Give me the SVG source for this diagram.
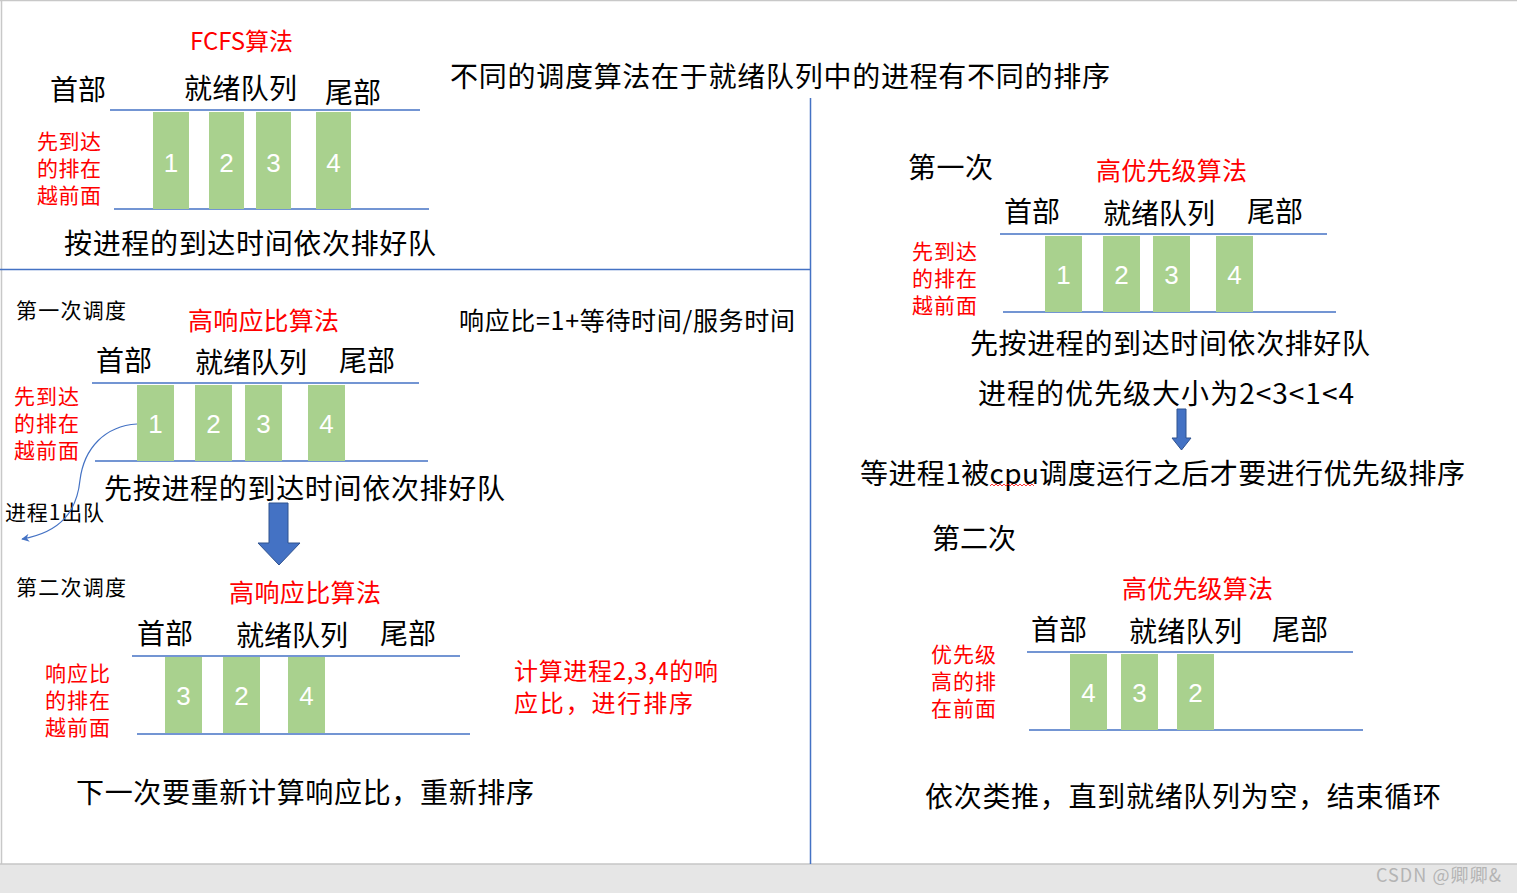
<svg xmlns="http://www.w3.org/2000/svg" width="1517" height="893" viewBox="0 0 1517 893">
<style>
text{font-family:"Noto Sans CJK SC","Noto Sans",sans-serif;fill:#000}
.h{font-size:28px}
.s{font-size:21px}
.m{font-size:25px}
.red{fill:#ff0000}
.bar{fill:#a9d18e}
.num{fill:#ffffff;font-size:26px;text-anchor:middle;font-family:"Liberation Sans","Noto Sans",sans-serif}
.ql{stroke:#4472c4;stroke-width:1.3;fill:none}
.div{stroke:#4472c4;stroke-width:1.5;fill:none}
.blk{fill:#4472c4;stroke:#2f528f;stroke-width:1}
</style>
<defs>
<marker id="ah" viewBox="0 0 10 10" refX="9" refY="5" markerWidth="8" markerHeight="8" orient="auto" markerUnits="userSpaceOnUse">
<path d="M0,0 L10,5 L0,10 L3,5 Z" fill="#4472c4"/>
</marker>
</defs>
<rect x="0" y="0" width="1517" height="893" fill="#ffffff"/>
<g id="frame">
<line x1="0" y1="0.5" x2="1517" y2="0.5" stroke="#c8c8c8" stroke-width="1.5"/>
<line x1="1.5" y1="0" x2="1.5" y2="864" stroke="#c8c8c8" stroke-width="1.5"/>
<rect x="0" y="864" width="1517" height="29" fill="#e6e6e6"/>
<line x1="0" y1="864" x2="1517" y2="864" stroke="#c6c6c6" stroke-width="1.5"/>
<line class="div" x1="0" y1="269.5" x2="810" y2="269.5"/>
<line class="div" x1="810.5" y1="98" x2="810.5" y2="864"/>
</g>
<g id="title"><text class="h" x="450" y="87" textLength="660">不同的调度算法在于就绪队列中的进程有不同的排序</text></g>

<g id="fcfs">
<text class="red" x="190" y="50" font-size="24" textLength="103">FCFS算法</text>
<text class="h" x="50" y="100" textLength="56">首部</text>
<text class="h" x="184" y="99" textLength="113">就绪队列</text>
<text class="h" x="325" y="103" textLength="56">尾部</text>
<line class="ql" x1="110" y1="110" x2="420" y2="110"/>
<line class="ql" x1="114" y1="209" x2="429" y2="209"/>
<rect class="bar" x="153" y="112" width="36" height="97"/>
<rect class="bar" x="209" y="112" width="35" height="97"/>
<rect class="bar" x="256" y="112" width="35" height="97"/>
<rect class="bar" x="316" y="112" width="35" height="97"/>
<text class="num" x="171" y="171.5">1</text>
<text class="num" x="226.5" y="171.5">2</text>
<text class="num" x="273.5" y="171.5">3</text>
<text class="num" x="333.5" y="171.5">4</text>
<text class="s red" x="37" y="149" textLength="64">先到达</text>
<text class="s red" x="37" y="176" textLength="64">的排在</text>
<text class="s red" x="37" y="203" textLength="64">越前面</text>
<text class="h" x="64" y="254" textLength="372">按进程的到达时间依次排好队</text>
</g>

<g id="hrrn1">
<text class="s" x="16" y="318" textLength="110">第一次调度</text>
<text class="m red" x="188" y="329.5" textLength="151">高响应比算法</text>
<text class="m" x="459" y="330" textLength="336">响应比=1+等待时间/服务时间</text>
<text class="h" x="96" y="371" textLength="56">首部</text>
<text class="h" x="195" y="373" textLength="112">就绪队列</text>
<text class="h" x="339" y="371" textLength="56">尾部</text>
<line class="ql" x1="92" y1="383" x2="419" y2="383"/>
<line class="ql" x1="95" y1="461" x2="428" y2="461"/>
<rect class="bar" x="137" y="385" width="37" height="76"/>
<rect class="bar" x="195" y="385" width="37" height="76"/>
<rect class="bar" x="245" y="385" width="37" height="76"/>
<rect class="bar" x="308" y="385" width="37" height="76"/>
<text class="num" x="155.5" y="433">1</text>
<text class="num" x="213.5" y="433">2</text>
<text class="num" x="263.5" y="433">3</text>
<text class="num" x="326.5" y="433">4</text>
<text class="s red" x="14" y="404" textLength="65">先到达</text>
<text class="s red" x="14" y="431" textLength="65">的排在</text>
<text class="s red" x="14" y="458" textLength="65">越前面</text>
<text class="h" x="104" y="499" textLength="401">先按进程的到达时间依次排好队</text>
<text class="s" x="5" y="519.5" textLength="99">进程1出队</text>
</g>

<g id="hrrn2">
<text class="s" x="16" y="595" textLength="110">第二次调度</text>
<text class="m red" x="229" y="601.5" textLength="152">高响应比算法</text>
<text class="h" x="137" y="644" textLength="56">首部</text>
<text class="h" x="236" y="646" textLength="112">就绪队列</text>
<text class="h" x="380" y="644" textLength="56">尾部</text>
<line class="ql" x1="132" y1="656" x2="460" y2="656"/>
<line class="ql" x1="137" y1="734" x2="470" y2="734"/>
<rect class="bar" x="165" y="657" width="37" height="76"/>
<rect class="bar" x="223" y="657" width="37" height="76"/>
<rect class="bar" x="288" y="657" width="37" height="76"/>
<text class="num" x="183.5" y="705">3</text>
<text class="num" x="241.5" y="705">2</text>
<text class="num" x="306.5" y="705">4</text>
<text class="s red" x="45" y="681" textLength="65">响应比</text>
<text class="s red" x="45" y="708" textLength="65">的排在</text>
<text class="s red" x="45" y="735" textLength="65">越前面</text>
<text class="red" x="514" y="680" font-size="24" textLength="204">计算进程2,3,4的响</text>
<text class="red" x="514" y="712" font-size="24" textLength="179">应比，进行排序</text>
<text class="h" x="76" y="803" textLength="458">下一次要重新计算响应比，重新排序</text>
</g>

<g id="prio1">
<text class="h" x="908" y="178" textLength="85">第一次</text>
<text class="m red" x="1096" y="179.5" textLength="151">高优先级算法</text>
<text class="h" x="1004" y="222" textLength="56">首部</text>
<text class="h" x="1103" y="224" textLength="112">就绪队列</text>
<text class="h" x="1247" y="222" textLength="56">尾部</text>
<line class="ql" x1="1000" y1="234" x2="1327" y2="234"/>
<line class="ql" x1="1003" y1="312" x2="1336" y2="312"/>
<rect class="bar" x="1045" y="236" width="37" height="76"/>
<rect class="bar" x="1103" y="236" width="37" height="76"/>
<rect class="bar" x="1153" y="236" width="37" height="76"/>
<rect class="bar" x="1216" y="236" width="37" height="76"/>
<text class="num" x="1063.5" y="284">1</text>
<text class="num" x="1121.5" y="284">2</text>
<text class="num" x="1171.5" y="284">3</text>
<text class="num" x="1234.5" y="284">4</text>
<text class="s red" x="912" y="259" textLength="65">先到达</text>
<text class="s red" x="912" y="286" textLength="65">的排在</text>
<text class="s red" x="912" y="313" textLength="65">越前面</text>
<text class="h" x="970" y="354" textLength="400">先按进程的到达时间依次排好队</text>
<text class="h" x="978" y="404" textLength="376">进程的优先级大小为2&lt;3&lt;1&lt;4</text>
<text class="h" x="860" y="484" textLength="605">等进程1被cpu调度运行之后才要进行优先级排序</text>
<path d="M990,486 l2,-2 l2,2 l2,-2 l2,2 l2,-2 l2,2 l2,-2 l2,2 l2,-2 l2,2 l2,-2 l2,2 l2,-2 l2,2 l2,-2 l2,2 l2,-2 l2,2 l2,-2 l2,2 l2,-2 l2,2" fill="none" stroke="#ff0000" stroke-width="0.8"/>
</g>

<g id="prio2">
<text class="h" x="932" y="549" textLength="84">第二次</text>
<text class="m red" x="1122" y="597.5" textLength="151">高优先级算法</text>
<text class="h" x="1031" y="640" textLength="56">首部</text>
<text class="h" x="1129" y="642" textLength="113">就绪队列</text>
<text class="h" x="1272" y="640" textLength="56">尾部</text>
<line class="ql" x1="1027" y1="652" x2="1353" y2="652"/>
<line class="ql" x1="1029" y1="730" x2="1363" y2="730"/>
<rect class="bar" x="1070" y="654" width="37" height="76"/>
<rect class="bar" x="1121" y="654" width="37" height="76"/>
<rect class="bar" x="1177" y="654" width="37" height="76"/>
<text class="num" x="1088.5" y="702">4</text>
<text class="num" x="1139.5" y="702">3</text>
<text class="num" x="1195.5" y="702">2</text>
<text class="s red" x="931" y="662" textLength="65">优先级</text>
<text class="s red" x="931" y="689" textLength="65">高的排</text>
<text class="s red" x="931" y="716" textLength="65">在前面</text>
<text class="h" x="925" y="807" textLength="516">依次类推，直到就绪队列为空，结束循环</text>
</g>

<g id="connectors">
<path d="M137,424 C105,426 84,448 80,480 C77,510 62,532 22,539" fill="none" stroke="#4472c4" stroke-width="1.2" marker-end="url(#ah)"/>
<polygon class="blk" points="269,503 288,503 288,543 300,543 279,565 258,543 269,543"/>
<polygon class="blk" points="1177,409 1186,409 1186,438 1191,438 1181.5,450 1172,438 1177,438"/>
</g>

<g id="watermark"><text x="1376" y="882" font-size="18" textLength="125" style="fill:#b4b4b4">CSDN @卿卿&amp;</text></g>
</svg>
